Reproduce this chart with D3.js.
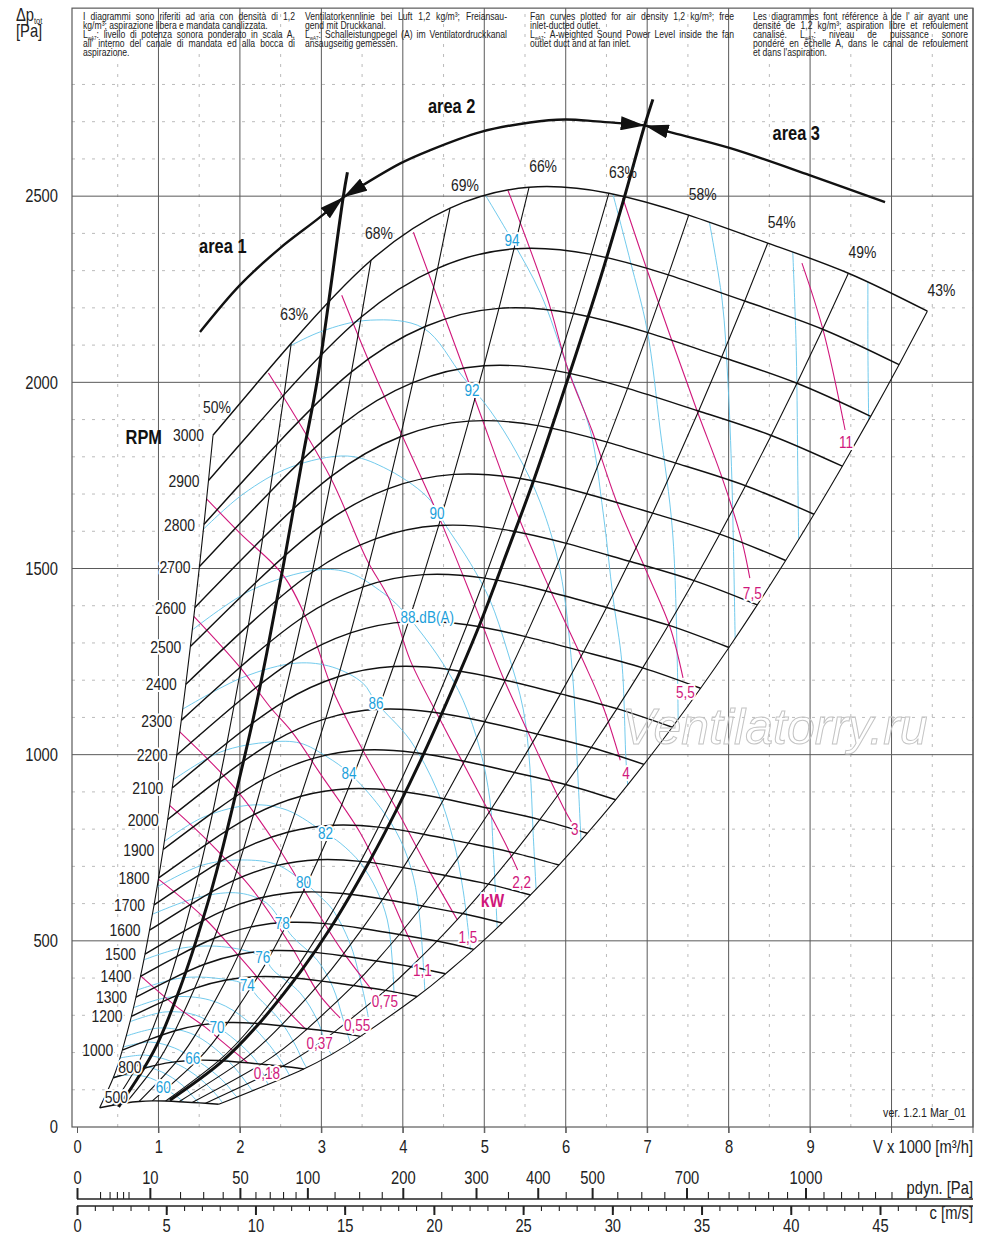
<!DOCTYPE html>
<html>
<head>
<meta charset="utf-8">
<title>Fan curve chart</title>
<script src="https://cdn.jsdelivr.net/npm/d3@7"></script>
<style>
  body { margin: 0; background: #fff; }
  svg { display: block; font-family: "Liberation Sans", Arial, sans-serif; }
</style>
</head>
<body>
<svg id="chart" width="1000" height="1259"></svg>
<script>
// ---- data ----
const rpmValues = [500, 800, 1000, 1200, 1300, 1400, 1500, 1600, 1700, 1800, 1900, 2000,
  2100, 2200, 2300, 2400, 2500, 2600, 2700, 2800, 2900, 3000];

// efficiency lines, with their crossing on the 3000 RPM curve
const effLabels = ["50%", "63%", "68%", "69%", "66%", "63%", "58%", "54%", "49%", "43%"];
const effFlow3000 = [1.67, 2.63, 3.61, 4.58, 5.55, 6.53, 7.51, 8.48, 9.47, 10.44];
const effPressure3000 = [1858, 2105, 2328, 2468, 2524, 2508, 2449, 2374, 2293, 2191];

// sound power curves dB(A)
const soundLevels = [60, 62, 64, 66, 68, 70, 72, 74, 76, 78, 80, 82, 84, 86, 88, 90, 92, 94, 96, 98, 100, 102];
const soundCurvePoints = [
  [[0.44, 134], [0.71, 140], [0.96, 126], [1.06, 107], [1.20, 86], [1.33, 64], [1.39, 51]],
  [[0.49, 161], [0.77, 166], [1.04, 148], [1.29, 113], [1.46, 73], [1.55, 56]],
  [[0.52, 185], [0.84, 193], [1.17, 175], [1.45, 140], [1.66, 99], [1.78, 67]],
  [[0.57, 215], [0.90, 228], [1.20, 212], [1.42, 185], [1.61, 158], [1.82, 118], [1.94, 86], [2.00, 73]],
  [[0.60, 244], [1.02, 266], [1.39, 252], [1.67, 215], [1.94, 158], [2.10, 113], [2.19, 86]],
  [[0.64, 282], [1.08, 309], [1.45, 301], [1.72, 269], [1.94, 234], [2.19, 180], [2.32, 126], [2.39, 94]],
  [[0.69, 320], [1.14, 349], [1.63, 341], [2.00, 301], [2.31, 234], [2.52, 172], [2.64, 126]],
  [[0.74, 368], [1.27, 400], [1.69, 400], [2.09, 381], [2.22, 349], [2.49, 287], [2.68, 220], [2.80, 166], [2.89, 140]],
  [[0.81, 448], [1.30, 481], [1.84, 483], [2.28, 456], [2.41, 421], [2.74, 360], [2.95, 287], [3.07, 215], [3.17, 180]],
  [[0.90, 569], [1.51, 618], [2.00, 628], [2.33, 601], [2.52, 548], [2.65, 510], [2.95, 448], [3.14, 376], [3.27, 287], [3.38, 207]],
  [[0.98, 644], [1.55, 704], [2.09, 717], [2.46, 704], [2.78, 658], [2.98, 620], [3.14, 583], [3.35, 494], [3.47, 403], [3.56, 314], [3.61, 247]],
  [[1.06, 765], [1.55, 832], [2.16, 865], [2.58, 851], [3.05, 789], [3.23, 763], [3.48, 709], [3.68, 636], [3.81, 556], [3.87, 448], [3.90, 314]],
  [[1.18, 932], [1.76, 1007], [2.37, 1034], [2.74, 1031], [3.07, 994], [3.34, 951], [3.72, 859], [3.97, 771], [4.13, 671], [4.21, 556], [4.27, 368]],
  [[1.28, 1120], [2.04, 1208], [2.70, 1246], [3.14, 1235], [3.51, 1192], [3.67, 1141], [4.09, 1039], [4.42, 905], [4.62, 771], [4.74, 636], [4.83, 475]],
  [[1.41, 1334], [2.14, 1442], [2.95, 1496], [3.35, 1488], [3.76, 1434], [3.97, 1394], [4.18, 1340], [4.49, 1246], [4.74, 1146], [4.95, 1012], [5.07, 878], [5.11, 744], [5.16, 529]],
  [[1.54, 1603], [2.04, 1700], [2.62, 1772], [3.32, 1802], [3.76, 1772], [4.30, 1692], [4.54, 1611], [4.83, 1514], [5.07, 1415], [5.28, 1281], [5.48, 1120], [5.56, 967], [5.60, 789], [5.64, 623]],
  [[2.30, 2060], [2.98, 2135], [3.60, 2167], [4.25, 2146], [4.74, 2014], [5.07, 1925], [5.40, 1810], [5.69, 1676], [5.93, 1496], [6.08, 1227], [6.14, 985], [6.19, 757]],
  [[4.98, 2515], [5.34, 2382], [5.69, 2239], [6.02, 2041], [6.30, 1872], [6.46, 1649], [6.58, 1423], [6.69, 1246], [6.74, 985], [6.77, 892]],
  [[6.55, 2530], [6.79, 2328], [7.00, 2140], [7.16, 1872], [7.31, 1603], [7.37, 1246], [7.38, 1079]],
  [[7.73, 2470], [7.92, 2221], [7.99, 2006], [8.04, 1737], [8.08, 1308]],
  [[8.78, 2390], [8.83, 2086], [8.85, 1737], [8.86, 1563]],
  [[9.71, 2300], [9.71, 2086], [9.72, 1885]]
];
const soundLabelTexts = ["60", "66", "70", "74", "76", "78", "80", "82", "84", "86", "88 dB(A)", "90", "92", "94"];
const soundLabelPoints = [[1.06, 107], [1.42, 185], [1.72, 269], [2.09, 381], [2.28, 456], [2.52, 548], [2.78, 658],
  [3.05, 789], [3.34, 951], [3.67, 1139], [4.30, 1369], [4.42, 1649], [4.85, 1979], [5.34, 2382]];

// absorbed power lines kW
const powerLabels = ["0,18", "0,37", "0,55", "0,75", "1,1", "1,5", "2,2", "3", "4", "5,5", "7,5", "11"];
const powerLinePoints = [
  [[0.77, 408], [1.23, 322], [1.57, 269], [1.79, 228], [2.10, 172]],
  [[0.98, 669], [1.55, 564], [2.00, 456], [2.46, 341], [2.82, 260]],
  [[1.13, 865], [1.63, 763], [2.16, 636], [2.62, 489], [2.98, 354], [3.23, 293]],
  [[1.24, 1066], [1.96, 905], [2.49, 744], [2.86, 610], [3.23, 481], [3.62, 368]],
  [[1.42, 1375], [2.00, 1235], [2.37, 1128], [2.65, 1058], [2.98, 951], [3.48, 789], [3.76, 663], [4.03, 529], [4.19, 454]],
  [[1.57, 1692], [2.00, 1595], [2.53, 1482], [2.86, 1343], [3.14, 1173], [3.51, 1012], [3.93, 851], [4.30, 698], [4.67, 556]],
  [[2.35, 2025], [3.11, 1745], [3.56, 1523], [3.84, 1415], [4.09, 1254], [4.46, 1093], [4.83, 940], [5.28, 752], [5.41, 690]],
  [[3.25, 2234], [3.63, 2033], [4.00, 1853], [4.46, 1630], [4.86, 1415], [5.23, 1208], [5.60, 1031], [5.97, 859], [6.07, 819]],
  [[4.13, 2403], [4.89, 1952], [5.40, 1649], [5.81, 1442], [6.21, 1254], [6.46, 1128], [6.67, 985]],
  [[5.29, 2516], [5.77, 2229], [6.03, 2033], [6.32, 1872], [6.63, 1676], [7.00, 1488], [7.28, 1343], [7.44, 1206]],
  [[6.70, 2495], [7.00, 2301], [7.61, 1925], [7.90, 1756], [8.16, 1576], [8.26, 1474]],
  [[8.90, 2320], [9.16, 2140], [9.43, 1872]]
];
const powerLabelPoints = [[2.33, 145], [2.98, 226], [3.44, 274], [3.78, 338], [4.24, 422], [4.80, 510],
  [5.46, 658], [6.11, 800], [6.74, 951], [7.47, 1168], [8.29, 1434], [9.44, 1839]];

// area boundaries and the arrowed arc above them
const boundaryLeft = [[3.32, 2564], [3.27, 2500], [2.95, 2006], [2.78, 1810], [2.53, 1504], [2.33, 1273], [2.16, 1093],
  [1.96, 905], [1.76, 725], [1.58, 583], [1.27, 376], [0.95, 207], [0.51, 54]];
const boundaryRight = [[7.07, 2760], [6.97, 2691], [6.72, 2497], [6.43, 2283], [6.05, 2025], [5.62, 1745], [5.29, 1550],
  [4.95, 1353], [4.71, 1227], [4.26, 1004], [3.94, 859], [3.60, 717], [3.12, 537], [2.76, 422], [2.20, 269], [1.76, 172], [1.14, 72]];
const arcArea1 = [[1.51, 2135], [2.00, 2261], [2.49, 2360], [2.98, 2443], [3.27, 2497]];
const arcArea2 = [[3.27, 2497], [3.97, 2588], [4.33, 2623], [4.95, 2672], [5.56, 2698], [5.99, 2706], [6.38, 2701], [6.97, 2690]];
const arcArea3 = [[6.97, 2690], [7.28, 2672], [8.02, 2629], [9.00, 2556], [9.92, 2484]];
const areaNames = ["area 1", "area 2", "area 3"];
const areaNamePoints = [[1.79, 2366], [4.60, 2744], [8.83, 2669]];

// axis ticks
const pressureTicks = [0, 500, 1000, 1500, 2000, 2500];
const flowTicks = [0, 1, 2, 3, 4, 5, 6, 7, 8, 9];
const pdynLabelTicks = [0, 10, 50, 100, 200, 300, 400, 500, 700, 1000];
const pdynMinorTicks = [1, 2, 3, 4, 5, 20, 30, 40, 60, 70, 80, 90, 125, 150, 175, 250, 350, 450, 550, 600, 650,
  750, 800, 850, 900, 950, 1050, 1100, 1150, 1200, 1250, 1300];
const speedLabelTicks = [0, 5, 10, 15, 20, 25, 30, 35, 40, 45];

// header notes
const headerIt = [
  "I diagrammi sono riferiti ad aria con densità di 1,2",
  "kg/m³; aspirazione libera e mandata canalizzata.",
  "L{wA7}: livello di potenza sonora ponderato in scala A,",
  "all' interno del canale di mandata ed alla bocca di",
  "aspirazione."
];
const headerDe = [
  "Ventilatorkennlinie bei Luft 1,2 kg/m³; Freiansau-",
  "gend mit Druckkanal.",
  "L{wA7}: Schalleistungpegel (A) im Ventilatordruckkanal",
  "ansaugseitig gemessen."
];
const headerEn = [
  "Fan curves plotted for air density 1,2 kg/m³; free",
  "inlet-ducted outlet.",
  "L{wA7}: A-weighted Sound Power Level inside the fan",
  "outlet duct and at fan inlet."
];
const headerFr = [
  "Les diagrammes font référence à de l' air ayant une",
  "densité de 1,2 kg/m³; aspiration libre et refoulement",
  "canalisé. L{wA7}: niveau de puissance sonore",
  "pondéré en échelle A, dans le canal de refoulement",
  "et dans l'aspiration."
];

// ---- drawing ----
const svg = d3.select("#chart");
const x = d3.scaleLinear().domain([0, 11]).range([77, 973]);
const y = d3.scaleLinear().domain([0, 3000]).range([1127, 10]);
const speed = d3.scaleLinear().domain([0, 45]).range([77, 880]);
const pdyn = d3.scaleSqrt().domain([0, 1215]).range([77, 880]);

const frameLeft = 72;
const frameTop = y(3005);
const INK = "#111";
const TEXT = "#222";
const GRID = "#5a5a5a";
const MAGENTA = "#d0187c";
const CYAN_LINE = "#62c4ea";
const CYAN_TEXT = "#1c9fdb";
// the chart uses a condensed face; squeeze Liberation Sans to match
const NARROW = 0.82;

const natural = d3.line().x(d => x(d[0])).y(d => y(d[1])).curve(d3.curveNatural);
const smooth = d3.line().x(d => x(d[0])).y(d => y(d[1])).curve(d3.curveCatmullRom.alpha(0.5));

init();

function init() {
  const nodes = buildNodes();
  drawGrid();
  drawHeader();
  drawAxes();
  drawClip(nodes);
  drawSound();
  drawPower();
  drawMesh(nodes);
  drawAreas();
  drawLabels(nodes);
  drawWatermark();
}

function at(px, py) {
  return `translate(${px},${py}) scale(${NARROW},1)`;
}

function buildNodes() {
  // fan laws: flow scales with speed, pressure with speed squared
  return rpmValues.map(n => {
    const s = n / 3000;
    return effFlow3000.map((v, j) => [v * s, effPressure3000[j] * s * s]);
  });
}

function drawGrid() {
  const g = svg.append("g").attr("class", "grid");
  g.selectAll("line.vmin").data(d3.range(0.5, 11, 1)).join("line").attr("class", "vmin")
    .attr("x1", d => x(d)).attr("x2", d => x(d)).attr("y1", y(0)).attr("y2", frameTop)
    .attr("stroke", "#aaa").attr("stroke-width", 0.8).attr("stroke-dasharray", "3,7");
  g.selectAll("line.hmin").data(d3.range(100, 2900, 100).filter(v => v % 500 !== 0)).join("line").attr("class", "hmin")
    .attr("x1", frameLeft).attr("x2", x(11)).attr("y1", d => y(d)).attr("y2", d => y(d))
    .attr("stroke", "#aaa").attr("stroke-width", 0.8).attr("stroke-dasharray", "3,7");
  g.selectAll("line.vmaj").data(d3.range(1, 12)).join("line").attr("class", "vmaj")
    .attr("x1", d => x(d)).attr("x2", d => x(d)).attr("y1", y(0) + 6).attr("y2", frameTop)
    .attr("stroke", GRID).attr("stroke-width", 1);
  g.selectAll("line.hmaj").data(d3.range(500, 3000, 500)).join("line").attr("class", "hmaj")
    .attr("x1", frameLeft).attr("x2", x(11)).attr("y1", d => y(d)).attr("y2", d => y(d))
    .attr("stroke", GRID).attr("stroke-width", 1);
  g.append("rect").attr("x", frameLeft).attr("y", frameTop)
    .attr("width", x(11) - frameLeft).attr("height", y(0) - frameTop)
    .attr("fill", "none").attr("stroke", GRID).attr("stroke-width", 1.2);
}

function drawHeader() {
  const cols = [headerIt, headerDe, headerEn, headerFr];
  const colX = [83, 305, 530, 753];
  const colW = [212, 202, 204, 215];
  const g = svg.append("g").attr("font-size", 10.5).attr("fill", TEXT);
  cols.forEach((lines, k) => {
    lines.forEach((line, i) => {
      const t = g.append("text").attr("transform", at(colX[k], 20 + i * 9.1));
      const parts = line.split("L{wA7}");
      t.append("tspan").text(parts[0]);
      if (parts.length > 1) {
        t.append("tspan").text("L");
        t.append("tspan").attr("font-size", 5.5).attr("dy", 2).text("wA7");
        t.append("tspan").attr("dy", -2).text(parts[1]);
      }
      const justify = i < lines.length - 1 && !line.endsWith(".");
      if (justify) {
        const len = t.node().getComputedTextLength();
        const gaps = (line.match(/ /g) || []).length;
        if (gaps) t.attr("word-spacing", Math.max(-0.5, (colW[k] / NARROW - len) / gaps));
      }
    });
  });

  const lab = svg.append("g").attr("fill", TEXT).attr("font-size", 18);
  const dp = lab.append("text").attr("transform", at(16, 21));
  dp.append("tspan").text("Δp");
  dp.append("tspan").attr("font-size", 9).attr("dy", 3).text("tot");
  lab.append("text").attr("transform", at(16, 37)).text("[Pa]");
}

function styleAxis(g, size) {
  g.select(".domain").remove();
  g.attr("font-family", null).attr("font-size", size).attr("color", TEXT);
  g.selectAll("text").attr("transform", `scale(${NARROW},1)`);
}

function axisText(px, py, label) {
  svg.append("text").attr("transform", at(px, py)).attr("text-anchor", "end")
    .attr("font-size", 18).attr("fill", TEXT).text(label);
}

function drawAxes() {
  const yAxis = svg.append("g").attr("transform", `translate(${frameLeft},0)`)
    .call(d3.axisLeft(y).tickValues(pressureTicks).tickSize(0).tickPadding(14).tickFormat(d3.format("d")));
  styleAxis(yAxis, 18);
  yAxis.selectAll("text").attr("x", -14 / NARROW);

  const xAxis = svg.append("g").attr("transform", `translate(0,${y(0)})`)
    .call(d3.axisBottom(x).tickValues(flowTicks).tickSize(6).tickPadding(7));
  styleAxis(xAxis, 18);
  xAxis.selectAll("line").attr("stroke", GRID);

  axisText(x(11), 1153, "V x 1000 [m³/h]");

  svg.append("text").attr("transform", at(966, 1117)).attr("text-anchor", "end")
    .attr("font-size", 13).attr("fill", TEXT).text("ver. 1.2.1 Mar_01");

  // dynamic pressure scale
  const pY = 1199;
  svg.append("line").attr("x1", x(0)).attr("x2", x(11)).attr("y1", pY).attr("y2", pY)
    .attr("stroke", TEXT).attr("stroke-width", 1.5);
  const pMinor = svg.append("g").attr("transform", `translate(0,${pY})`)
    .call(d3.axisTop(pdyn).tickValues(pdynMinorTicks).tickSize(7).tickFormat(""));
  styleAxis(pMinor, 18);
  pMinor.selectAll("line").attr("stroke-width", 1.1);
  const pMajor = svg.append("g").attr("transform", `translate(0,${pY})`)
    .call(d3.axisTop(pdyn).tickValues(pdynLabelTicks).tickSize(11).tickPadding(4).tickFormat(d3.format("d")));
  styleAxis(pMajor, 18);
  pMajor.selectAll("line").attr("stroke-width", 2);
  axisText(x(11), 1194, "pdyn. [Pa]");

  // velocity scale
  const cY = 1206;
  svg.append("line").attr("x1", x(0)).attr("x2", x(11)).attr("y1", cY).attr("y2", cY)
    .attr("stroke", TEXT).attr("stroke-width", 1.5);
  const cMinor = svg.append("g").attr("transform", `translate(0,${cY})`)
    .call(d3.axisBottom(speed).tickValues(d3.range(0, 48)).tickSize(5).tickFormat(""));
  styleAxis(cMinor, 18);
  cMinor.selectAll("line").attr("stroke-width", 1.1);
  const cMajor = svg.append("g").attr("transform", `translate(0,${cY})`)
    .call(d3.axisBottom(speed).tickValues(speedLabelTicks).tickSize(9).tickPadding(4));
  styleAxis(cMajor, 18);
  cMajor.selectAll("line").attr("stroke-width", 2);
  axisText(x(11), 1219, "c [m/s]");
}

function drawClip(nodes) {
  const left = nodes.map(r => r[0]);
  const top = nodes[nodes.length - 1];
  const right = nodes.map(r => r[r.length - 1]).reverse();
  const bottom = nodes[0].slice().reverse();
  const d = [left, top, right, bottom].map((pts, k) => {
    const s = natural(pts);
    return k ? s.replace(/^M/, "L") : s;
  }).join("") + "Z";
  svg.append("defs").append("clipPath").attr("id", "meshClip")
    .append("path").attr("d", d);
}

function drawSound() {
  svg.append("g").attr("clip-path", "url(#meshClip)")
    .selectAll("path").data(soundCurvePoints).join("path")
    .attr("d", smooth).attr("fill", "none")
    .attr("stroke", CYAN_LINE).attr("stroke-width", 0.9)
    .attr("data-level", (d, i) => soundLevels[i]);
}

function drawPower() {
  svg.append("g").attr("clip-path", "url(#meshClip)")
    .selectAll("path").data(powerLinePoints).join("path")
    .attr("d", smooth).attr("fill", "none")
    .attr("stroke", MAGENTA).attr("stroke-width", 1.1);
}

function drawMesh(nodes) {
  const g = svg.append("g").attr("fill", "none").attr("stroke", INK);
  const effLines = effLabels.map((_, j) => nodes.map(row => row[j]));
  g.selectAll("path.eff").data(effLines).join("path").attr("class", "eff")
    .attr("d", natural).attr("stroke-width", 1.1);
  g.selectAll("path.rpm").data(nodes).join("path").attr("class", "rpm")
    .attr("d", natural).attr("stroke-width", 1.45);
}

function drawAreas() {
  const defs = svg.append("defs");
  defs.append("marker").attr("id", "arrowHead")
    .attr("viewBox", "0 0 24 14").attr("refX", 24).attr("refY", 7)
    .attr("markerWidth", 24).attr("markerHeight", 14)
    .attr("markerUnits", "userSpaceOnUse").attr("orient", "auto-start-reverse")
    .append("path").attr("d", "M0,0 L24,7 L0,14 Z").attr("fill", INK);

  const g = svg.append("g").attr("fill", "none").attr("stroke", INK);
  g.selectAll("path.bound").data([boundaryLeft, boundaryRight]).join("path").attr("class", "bound")
    .attr("d", smooth).attr("stroke-width", 3);

  g.append("path").attr("d", smooth(arcArea1)).attr("stroke-width", 2.4)
    .attr("marker-end", "url(#arrowHead)");
  g.append("path").attr("d", smooth(arcArea2)).attr("stroke-width", 2.4)
    .attr("marker-start", "url(#arrowHead)").attr("marker-end", "url(#arrowHead)");
  g.append("path").attr("d", smooth(arcArea3)).attr("stroke-width", 2.4)
    .attr("marker-start", "url(#arrowHead)");

  svg.append("g").selectAll("text").data(areaNames).join("text")
    .attr("transform", (d, i) => at(x(areaNamePoints[i][0]), y(areaNamePoints[i][1])))
    .attr("dy", "0.36em").attr("text-anchor", "middle")
    .attr("font-size", 20).attr("font-weight", "bold").attr("fill", INK).text(d => d);
}

function halo(sel) {
  return sel.attr("stroke", "#fff").attr("stroke-width", 4)
    .attr("stroke-linejoin", "round").attr("paint-order", "stroke");
}

function drawLabels(nodes) {
  const top = nodes[nodes.length - 1];
  const shift = j => j === 0 ? [4, -28] : j === 1 ? [3, -29] : j === 2 ? [8, -27] : j === 3 ? [15, -23] : [14, -21];
  svg.append("g").selectAll("text").data(effLabels).join("text")
    .attr("transform", (d, j) => at(x(top[j][0]) + shift(j)[0], y(top[j][1]) + shift(j)[1]))
    .attr("dy", "0.36em").attr("text-anchor", "middle")
    .attr("font-size", 17).attr("fill", TEXT).text(d => d);

  halo(svg.append("g").selectAll("text").data(rpmValues).join("text")
    .attr("transform", (d, i) => at(x(nodes[i][0][0]) + (d <= 800 ? 5 : -9), y(nodes[i][0][1]) + (d <= 800 ? -11 : 0)))
    .attr("dy", "0.36em").attr("text-anchor", d => d <= 800 ? "start" : "end")
    .attr("font-size", 17).attr("fill", TEXT).text(d => d));

  svg.append("text").attr("transform", at(162, y(1853))).attr("dy", "0.36em")
    .attr("text-anchor", "end").attr("font-size", 20).attr("font-weight", "bold")
    .attr("fill", INK).text("RPM");

  halo(svg.append("g").selectAll("text").data(soundLabelTexts).join("text")
    .attr("transform", (d, i) => at(x(soundLabelPoints[i][0]), y(soundLabelPoints[i][1])))
    .attr("dy", "0.36em").attr("text-anchor", "middle")
    .attr("font-size", 16.5).attr("fill", CYAN_TEXT).text(d => d));

  halo(svg.append("g").selectAll("text").data(powerLabels).join("text")
    .attr("transform", (d, i) => at(x(powerLabelPoints[i][0]), y(powerLabelPoints[i][1])))
    .attr("dy", "0.36em").attr("text-anchor", "middle")
    .attr("font-size", 16.5).attr("fill", MAGENTA).text(d => d));

  halo(svg.append("text").attr("transform", at(x(5.1), y(610))).attr("dy", "0.36em")
    .attr("text-anchor", "middle").attr("font-size", 19).attr("font-weight", "bold")
    .attr("fill", MAGENTA).text("kW"));
}

function drawWatermark() {
  svg.append("text").attr("x", 622).attr("y", 744)
    .attr("font-style", "italic")
    .attr("font-size", 50).attr("fill", "none").attr("stroke", "#c4c4c4").attr("stroke-width", 1)
    .text("Ventilatorry.ru");
}
</script>
</body>
</html>
